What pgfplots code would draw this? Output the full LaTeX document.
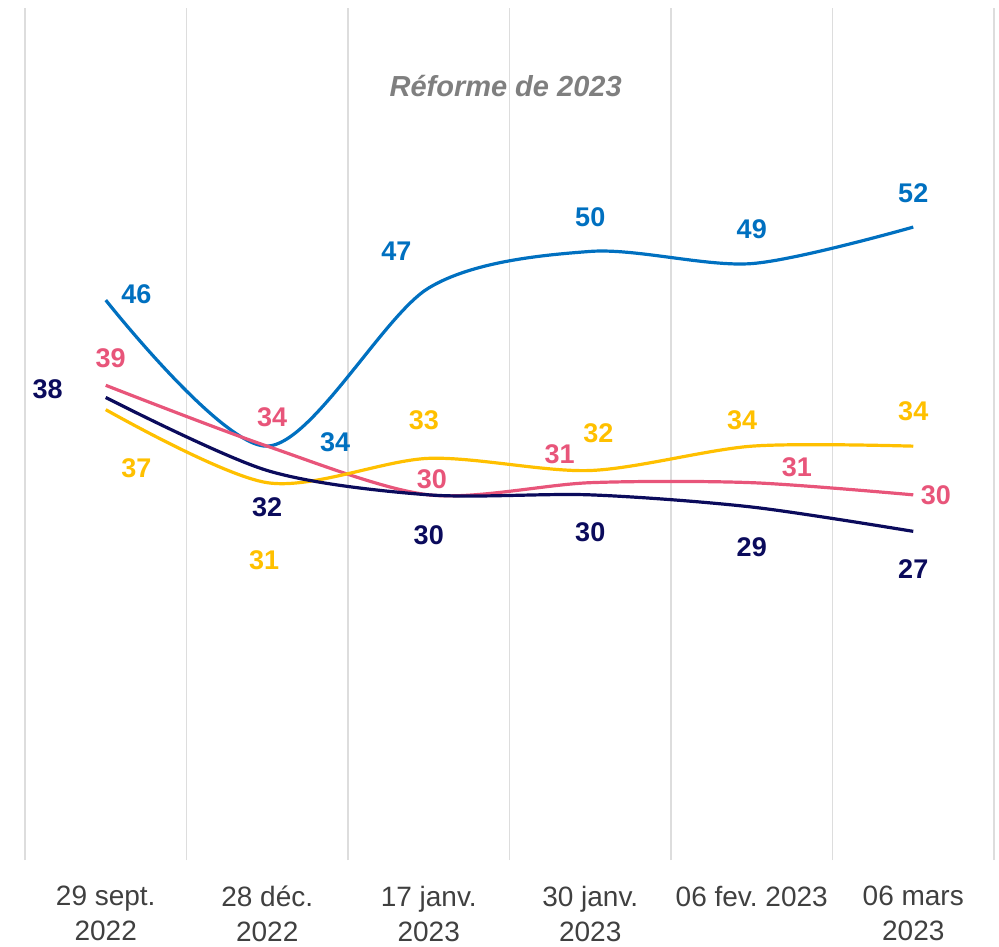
\documentclass[border=0pt]{standalone}
\usepackage{pgfplots}
\pgfplotsset{compat=1.18}
\usepackage{fontspec}
\setmainfont{Liberation Sans}
\frenchspacing

\definecolor{cblue}{HTML}{0070C0}
\definecolor{cpink}{HTML}{E8557A}
\definecolor{cyellow}{HTML}{FFC000}
\definecolor{cnavy}{HTML}{0B0B5C}
\definecolor{cgrid}{HTML}{DDDDDD}
\definecolor{ctick}{HTML}{404040}
\definecolor{ctitle}{HTML}{7F7F7F}

\pgfplotsset{
  lbl/.style={draw=none, mark=none, nodes near coords, nodes near coords align=center,
    point meta=explicit symbolic,
    every node near coord/.append style={font=\fontsize{13.5}{16}\selectfont\bfseries, text=#1, anchor=center}},
  crv/.style={line width=1.6pt, smooth, tension=0.5, mark=none, color=#1},
}

\begin{document}
\begin{tikzpicture}
\path[use as bounding box] (-12.5pt,-43pt) rectangle (487pt,430pt);
\begin{axis}[
  scale only axis,
  width=484.5pt, height=426pt,
  xmin=-0.5, xmax=5.5,
  ymin=0, ymax=70,
  axis line style={draw=none},
  ytick=\empty,
  xtick={0,...,5},
  xticklabels={{29 sept.\\2022},{28 déc.\\2022},{17 janv.\\2023},{30 janv.\\2023},{06 fev. 2023},{06 mars\\2023}},
  minor xtick={-0.5,0.5,...,5.5},
  minor x grid style={cgrid, line width=0.75pt},
  xminorgrids=true,
  major tick length=0pt, minor tick length=0pt,
  xticklabel style={align=center, font=\fontsize{14}{17.5}\selectfont, text=ctick, anchor=north, yshift=-9.5pt},
  clip=false,
]
\node[font=\fontsize{14.5}{17}\selectfont\bfseries\itshape, text=ctitle] at (axis description cs:0.496,0.909) {Réforme de 2023};

\addplot[crv=cblue] coordinates {(0,46) (1,34) (2,47) (3,50) (4,49) (5,52)};
\addplot[crv=cpink] coordinates {(0,39) (1,34) (2,30) (3,31) (4,31) (5,30)};
\addplot[crv=cyellow] coordinates {(0,37) (1,31) (2,33) (3,32) (4,34) (5,34)};
\addplot[crv=cnavy] coordinates {(0,38) (1,32) (2,30) (3,30) (4,29) (5,27)};

\addplot[lbl=cblue] table[meta=v] {
x y v
0.19 46.5 46
1.42 34.3 34
1.80 50.0 47
3.00 52.8 50
4.00 51.8 49
5.00 54.8 52
};
\addplot[lbl=cpink] table[meta=v] {
x y v
0.03 41.2 39
1.03 36.4 34
2.02 31.3 30
2.81 33.3 31
4.28 32.3 31
5.14 30.0 30
};
\addplot[lbl=cyellow] table[meta=v] {
x y v
0.19 32.2 37
0.98 24.6 31
1.97 36.1 33
3.05 35.1 32
3.94 36.1 34
5.00 36.9 34
};
\addplot[lbl=cnavy] table[meta=v] {
x y v
-0.36 38.7 38
1.00 29.0 32
2.00 26.7 30
3.00 26.9 30
4.00 25.7 29
5.00 23.9 27
};
\end{axis}
\end{tikzpicture}
\end{document}
